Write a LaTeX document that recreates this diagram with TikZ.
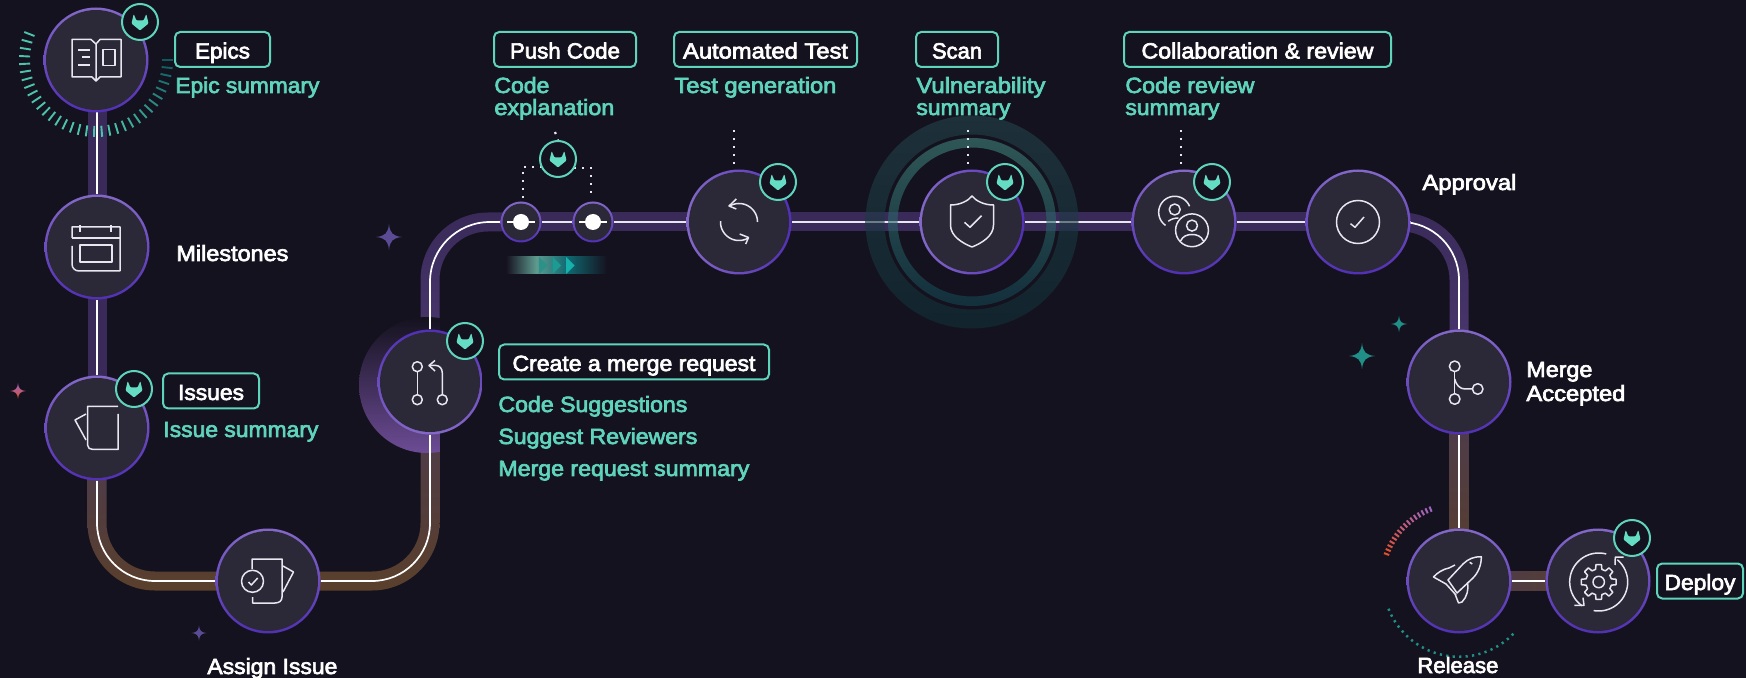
\documentclass[tikz,border=0pt]{standalone}
\usepackage{fontspec}
\usepackage{graphicx}
\usetikzlibrary{calc,shadings}
\newfontfamily\labfont[FakeBold=3]{Liberation Sans}
\definecolor{bgc}{HTML}{15121F}
\definecolor{stagec}{HTML}{2B2838}
\definecolor{ringa}{HTML}{8468C8}
\definecolor{ringb}{HTML}{5230B4}
\definecolor{tealc}{HTML}{5FD4BD}
\definecolor{tanuc}{HTML}{65DCC4}
\definecolor{iconc}{HTML}{E8E6EE}
\definecolor{bandp}{HTML}{392A59}
\definecolor{bandq}{HTML}{4E3A73}
\definecolor{bandb}{HTML}{5A3F2B}
\definecolor{bandm}{HTML}{4A3A52}
\definecolor{ticka}{HTML}{4CC4AC}
\definecolor{tickb}{HTML}{0D5A5E}
\definecolor{tkr}{HTML}{E0502A}
\definecolor{tkp}{HTML}{9A66C8}
\definecolor{dotteal}{HTML}{1F8F88}
\definecolor{chevA}{HTML}{5F9A8F}
\definecolor{chevB}{HTML}{106A72}
\definecolor{ringoa}{HTML}{24444C}
\definecolor{ringob}{HTML}{103038}
\definecolor{ringia}{HTML}{41857D}
\definecolor{ringib}{HTML}{124450}
\definecolor{sparkv}{HTML}{5B4A94}
\pgfdeclarelayer{back}
\pgfsetlayers{back,main}
\pgfdeclarehorizontalshading{chevshade}{100bp}{color(0bp)=(bgc); color(25bp)=(bgc); color(40bp)=(chevA); color(55bp)=(chevB); color(75bp)=(bgc); color(100bp)=(bgc)}
\newcommand{\fitw}[2]{\resizebox{\dimexpr #1pt/2\relax}{\height}{#2}}
\newcommand{\arcpath}[5]{plot[domain=#4:#5,samples=40] ({#1+#3*cos(\x)},{#2+#3*sin(\x)})}
\newcommand{\tanuki}[1]{\fill[tanuc,rounded corners=0.5pt,shift={(#1.center)}] (0,8.5) -- (-8.5,1.5) -- (-6.3,-8) -- (-3.6,-1.5) -- (3.6,-1.5) -- (6.3,-8) -- (8.5,1.5) -- cycle;}
\newcommand{\sparkle}[4]{\fill[#4,shift={(#1,#2)},scale=#3] (0,-1) .. controls (.07,-.3) and (.3,-.07) .. (1,0) .. controls (.3,.07) and (.07,.3) .. (0,1) .. controls (-.07,.3) and (-.3,.07) .. (-1,0) .. controls (-.3,-.07) and (-.07,-.3) .. (0,-1) -- cycle;}
\tikzset{
  stage/.style={circle,minimum size=52.5pt,inner sep=0pt,top color=ringa,bottom color=ringb,
    path picture={\fill[stagec] (path picture bounding box.center) circle (25pt);}},
  flipstage/.style={circle,minimum size=52.5pt,inner sep=0pt,top color=ringb,bottom color=ringa,
    path picture={\fill[stagec] (path picture bounding box.center) circle (25pt);}},
  sidestage/.style={circle,minimum size=52.5pt,inner sep=0pt,left color=ringa,right color=ringb,
    path picture={\fill[stagec] (path picture bounding box.center) circle (25pt);}},
  dotstage/.style={circle,minimum size=20.5pt,inner sep=0pt,top color=ringa,bottom color=ringb,
    path picture={\fill[stagec] (path picture bounding box.center) circle (9.2pt);
      \draw[white,line width=.9pt] ($(path picture bounding box.center)+(-14,0)$) -- ($(path picture bounding box.center)+(14,0)$);
      \fill[white] (path picture bounding box.center) circle (4pt);}},
  badge/.style={circle,minimum size=18pt,inner sep=0pt,draw=tealc,line width=1pt,fill=bgc},
  tag/.style={rectangle,rounded corners=2.6pt,draw=tealc,line width=1pt,fill=bgc,inner sep=0pt,
    minimum height=17.5pt,text height=9pt,text depth=0pt,text=white,font=\labfont\fontsize{11}{13}\selectfont},
  whitetext/.style={anchor=base west,inner sep=0pt,text=white,font=\labfont\fontsize{11}{13}\selectfont},
  tealtext/.style={anchor=base west,inner sep=0pt,text=tealc,font=\labfont\fontsize{11}{13}\selectfont},
  icon/.style={draw=iconc,line width=.75pt,line join=round},
  track/.style={draw=white,line width=.85pt},
  toptrack/.style={draw=iconc,line width=1.15pt},
  dotline/.style={draw=iconc,line width=1.1pt,dash pattern=on 1.1pt off 2.9pt},
}
\begin{document}
\begin{tikzpicture}[x=0.5pt,y=-0.5pt]
\useasboundingbox (0,0) rectangle (1746,678);
% stages
\node[stage] (epics) at (96,60) {};
\node[stage] (miles) at (97,247) {};
\node[stage] (issues) at (97,428) {};
\node[stage] (assign) at (268,581) {};
\node[flipstage] (mr) at (430,382) {};
\node[dotstage] (dota) at (521,222) {};
\node[dotstage] (dotb) at (593,222) {};
\node[sidestage] (test) at (739,222) {};
\node[sidestage] (scan) at (972,222) {};
\node[stage] (collab) at (1184,222) {};
\node[stage] (approval) at (1358,222) {};
\node[stage] (merge) at (1459,382) {};
\node[stage] (release) at (1459,581) {};
\node[stage] (deploy) at (1598,581) {};
% badges
\node[badge] (bepics) at (140,22) {}; \tanuki{bepics}
\node[badge] (bissues) at (134,389) {}; \tanuki{bissues}
\node[badge] (bmr) at (465,341) {}; \tanuki{bmr}
\node[badge] (bpush) at (558,159) {}; \tanuki{bpush}
\node[badge] (btest) at (778,182) {}; \tanuki{btest}
\node[badge] (bscan) at (1005,182) {}; \tanuki{bscan}
\node[badge] (bcollab) at (1212,182) {}; \tanuki{bcollab}
\node[badge] (bdeploy) at (1632,538) {}; \tanuki{bdeploy}
% free ends
\coordinate (pushtop) at (555,132);
\coordinate (testtop) at (734,130);
\coordinate (scantop) at (968,130);
\coordinate (collabtop) at (1181,130);
\begin{pgfonlayer}{back}
\fill[bgc] (0,0) rectangle (1746,678);
% bands
\fill[bandp] ($(miles |- epics)+(-9.5,0)$) rectangle ($(issues)+(9.5,0)$);
\shade[top color=bandm,bottom color=bandb] ($(issues)+(-9.5,0)$) [rounded corners=33.75pt] -- ($(issues |- assign)+(-9.5,9.5)$) [sharp corners] -- ($(assign)+(0,9.5)$) -- ($(assign)+(0,-9.5)$) [rounded corners=24.25pt] -- ($(issues |- assign)+(9.5,-9.5)$) [sharp corners] -- ($(issues)+(9.5,0)$) -- cycle;
\shade[top color=bandm,bottom color=bandb] ($(mr)+(9.5,0)$) [rounded corners=33.75pt] -- ($(mr |- assign)+(9.5,9.5)$) [sharp corners] -- ($(assign)+(0,9.5)$) -- ($(assign)+(0,-9.5)$) [rounded corners=24.25pt] -- ($(mr |- assign)+(-9.5,-9.5)$) [sharp corners] -- ($(mr)+(-9.5,0)$) -- cycle;
\shade[top color=bandp,bottom color=bandq] ($(mr)+(-9.5,0)$) [rounded corners=33.75pt] -- ($(mr |- dota)+(-9.5,-9.5)$) [sharp corners] -- ($(dota)+(0,-9.5)$) -- ($(dota)+(0,9.5)$) [rounded corners=24.25pt] -- ($(mr |- dota)+(9.5,9.5)$) [sharp corners] -- ($(mr)+(9.5,0)$) -- cycle;
\fill[bandp] ($(dota)+(0,-9.5)$) rectangle ($(approval)+(0,9.5)$);
\shade[top color=bandp,bottom color=bandq] ($(merge)+(9.5,0)$) [rounded corners=33.75pt] -- ($(merge |- approval)+(9.5,-9.5)$) [sharp corners] -- ($(approval)+(0,-9.5)$) -- ($(approval)+(0,9.5)$) [rounded corners=24.25pt] -- ($(merge |- approval)+(-9.5,9.5)$) [sharp corners] -- ($(merge)+(-9.5,0)$) -- cycle;
\shade[top color=bandm,bottom color=bandb] ($(merge)+(-9.5,0)$) rectangle ($(release)+(9.5,0)$);
\shade[left color=bandm,right color=bandb] ($(release)+(0,-9.5)$) rectangle ($(deploy)+(0,9.5)$);
% merge request glow
\begin{scope}
\clip (340,300) rectangle (439.5,460);
\shade[top color=bgc,bottom color=bandq!60!tkp] (427,385) circle (68);
\end{scope}
% white lines
\draw[track] (miles |- epics) -- (miles);
\draw[track] (miles) -- (issues);
\draw[track,rounded corners=29pt] (issues) |- (assign);
\draw[track,rounded corners=29pt] (assign) -| (mr);
\draw[track,rounded corners=30pt] (mr) |- (dota);
\draw[toptrack] (dota) -- (dotb);
\draw[toptrack] (dotb) -- (test);
\draw[toptrack] (test) -- (scan);
\draw[toptrack] (scan) -- (collab);
\draw[toptrack] (collab) -- (approval);
\draw[track,rounded corners=29pt] (approval) -| (merge);
\draw[track] (merge) -- (release);
\draw[track] (release) -- (deploy);
% scan rings
\shade[even odd rule,top color=ringoa,bottom color=ringob,opacity=.6] (scan) circle (106.5) (scan) circle (87.5);
\shade[even odd rule,top color=ringia,bottom color=ringib,opacity=.6] (scan) circle (84) (scan) circle (74.5);
% dotted connectors
\draw[dotline] (pushtop) -- (bpush.north);
\draw[dotline] ($(bpush)+(-16,8)$) -| ($(dota.north)+(2,-2)$);
\draw[dotline] ($(bpush)+(16,9)$) -| ($(dotb.north)+(-2,-8)$);
\draw[dotline] (testtop) -- ($(testtop |- test.north)+(0,-5)$);
\draw[dotline] (scantop) -- ($(scantop |- scan.north)+(0,-5)$);
\draw[dotline] (collabtop) -- ($(collabtop |- collab.north)+(0,-5)$);
\end{pgfonlayer}
% tick arcs
\foreach \a in {0,6.1,...,205} {
  \pgfmathsetmacro\t{min(100,\a/80*100)}
  \draw[line width=.95pt,draw={ticka!\t!tickb}] ($(epics)+(\a:66)$) -- ($(epics)+(\a:77)$);
}
\foreach \a in {200.4,203.6,...,250} {
  \pgfmathsetmacro\t{(\a-200)/50*100}
  \draw[line width=1pt,draw={tkp!\t!tkr}] ($(release)+(\a:74.5)$) -- ($(release)+(\a:80)$);
}
\foreach \a in {45,49.9,...,158} {
  \draw[line width=1.1pt,draw=dotteal] ($(release)+(\a:74.5)$) -- ($(release)+(\a:77)$);
}
% sparkles
\sparkle{18}{391}{8}{top color=tkp,bottom color=tkr}
\sparkle{199}{633}{7.5}{color=sparkv}
\sparkle{389}{237}{13}{color=sparkv}
\sparkle{1399}{324}{8}{color=dotteal}
\sparkle{1362}{356}{13}{color=dotteal}
% chevrons
\fill[shading=chevshade] (506,257) rectangle (607,274);
\fill[dotteal!80!chevA] (539,257) -- (547.7,265.5) -- (539,274) -- cycle;
\fill[dotteal!90!cyan] (552.5,257) -- (561,265.5) -- (552.5,274) -- cycle;
\fill[dotteal!70!cyan] (566,257) -- (574.5,265.5) -- (566,274) -- cycle;
% icons
\begin{scope}[shift={(epics.center)}]
\draw[icon] (0,-16) -- (-5,-20.5) -- (-24,-20.5) -- (-24,17) -- (-4,17) -- (0,21) -- (4,17) -- (25,17) -- (25,-20.5) -- (4,-20.5) -- (0,-16) -- (0,20);
\draw[icon] (-18,-10) -- (-6,-10) (-14,-3) -- (-6,-3) (-18,5) -- (-6,5);
\draw[icon] (7,-10.5) rectangle (19,5.5);
\end{scope}
\begin{scope}[shift={(miles.center)}]
\draw[icon] (-25,-9) -- (-25,-20) -- (23,-20) -- (23,24) -- (-18,24) .. controls (-22,24) and (-25,21) .. (-25,17) -- (-25,-1);
\draw[icon] (-25,-9) -- (23,-9);
\draw[icon] (-17,-2) rectangle (15,15);
\draw[icon] (-17,-22) -- (-17,-15) (14,-22) -- (14,-15);
\end{scope}
\begin{scope}[shift={(issues.center)}]
\draw[icon] (21,-21.5) -- (-9.5,-21.5) -- (-9.5,17) .. controls (-9.5,20) and (-7,21.5) .. (-4,21.5) -- (21,21.5) -- (21,-14);
\draw[icon] (-11,-14) -- (-22,-8) -- (-11,12);
\end{scope}
\begin{scope}[shift={(assign.center)}]
\draw[icon] (-16,-12) -- (-16,-22) -- (14,-22) -- (14,16) .. controls (14,20) and (11,22) .. (7,22) -- (-15.5,22) -- (-15.5,16);
\draw[icon] (15,-15) -- (25.5,-9) -- (15,11);
\draw[icon] (-15.5,0.3) circle (11);
\draw[icon] (-19.5,1) -- (-16.7,4) -- (-10.3,-3);
\end{scope}
\begin{scope}[shift={(mr.center)}]
\draw[icon] (-12.7,-15.3) circle (5) (-12.7,17.7) circle (5) (12.3,17.7) circle (5);
\draw[icon] (-12.7,-10.3) -- (-12.7,12.7);
\draw[icon] (12.3,12.7) -- (12.3,-9) .. controls (12.3,-13.5) and (9.5,-16.5) .. (6,-16.5) -- (-1,-16.5);
\draw[icon] (5,-21.5) -- (-1,-16.5) -- (5,-11);
\end{scope}
\begin{scope}[shift={(test.center)}]
\draw[icon] \arcpath{0}{0}{18.5}{-122}{0};
\draw[icon] \arcpath{0}{0}{18.5}{60.6}{183};
\draw[icon] (-2.7,-23) -- (-10,-16) -- (-2.7,-13);
\draw[icon] (0.7,12) -- (9.5,15.5) -- (6.7,22);
\end{scope}
\begin{scope}[shift={(scan.center)}]
\draw[icon] (0,-26) .. controls (-4,-21) and (-12,-17) .. (-21.5,-17) -- (-21.5,3) .. controls (-21.5,14) and (-10,21) .. (0,25) .. controls (10,21) and (21.5,14) .. (21.5,3) -- (21.5,-17) .. controls (12,-17) and (4,-21) .. (0,-26) -- cycle;
\draw[icon] (-7.5,0.3) -- (-2,5.3) -- (9.5,-6.3);
\end{scope}
\begin{scope}[shift={(collab.center)}]
\draw[icon] (8,8.3) circle (16.4);
\draw[icon] (8,3.6) circle (5.5);
\draw[icon] (-3.5,19) .. controls (-1,14) and (3,12.5) .. (8,12.5) .. controls (13,12.5) and (17,14) .. (19.5,19);
\draw[icon] \arcpath{-9.3}{-9.7}{16}{-235}{-22};
\draw[icon] (-9.3,-12.5) circle (5.5);
\draw[icon] (-15.7,-0.7) .. controls (-13,-3) and (-9,-4) .. (-5.7,-4);
\end{scope}
\begin{scope}[shift={(approval.center)}]
\draw[icon] (0,0) circle (21.5);
\draw[icon] (-7.5,1.7) -- (-3,5.3) -- (6,-5);
\end{scope}
\begin{scope}[shift={(merge.center)}]
\draw[icon] (-4.3,-15.7) circle (5.3) (-4.3,17) circle (5.3) (18.7,7) circle (5.3);
\draw[icon] (-4.3,-10.4) -- (-4.3,11.7);
\draw[icon] (-4.3,-3) .. controls (-3,3) and (1,7) .. (6,7) -- (13.4,7);
\end{scope}
\begin{scope}[shift={(release.center)}]
\draw[icon] (22.3,-24.3) .. controls (15,-24.5) and (9,-22) .. (4,-17) -- (-11,-1) -- (-2,12) -- (14,-3) .. controls (19,-8) and (22.5,-16) .. (22.3,-24.3) -- cycle;
\draw[icon] (-4,-16) -- (-10,-13) .. controls (-16,-12) and (-22,-8) .. (-25.5,-4) -- (-13,3) -- (-3,14);
\draw[icon] (8.5,1) .. controls (10,8) and (8,16) .. (3,21) -- (-0.5,22) -- (-4,13);
\draw[icon] (10.7,-18.7) -- (13.3,-17);
\end{scope}
\begin{scope}[shift={(deploy.center)}]
\begin{scope}[shift={(0.7,1)}]
\draw[icon] (-14:13) \foreach \a in {0,45,...,315} { -- (\a-14:13) -- (\a-9:17.5) -- (\a+9:17.5) -- (\a+14:13)} -- cycle;
\draw[icon] (0,0) circle (5.7);
\draw[icon] \arcpath{0}{0}{29}{-235}{-75};
\draw[icon] \arcpath{0}{0}{29}{-50}{100};
\end{scope}
\draw[icon] (-23.7,24.3) -- (-14,24.3) -- (-15,16.7);
\draw[icon] (25.7,-24) -- (17.3,-24) -- (17,-16);
\end{scope}
% tags
\node[tag,minimum width=47.5pt] (tepics) at (222.5,49.5) {\fitw{55}{Epics}};
\node[tag,minimum width=48pt] (tissues) at (211,391) {\fitw{66}{Issues}};
\node[tag,minimum width=135pt] (tmr) at (634,362) {\fitw{243}{Create a merge request}};
\node[tag,minimum width=71pt] (tpush) at (565,49.5) {\fitw{110}{Push Code}};
\node[tag,minimum width=91.5pt] (ttest) at (765.5,49.5) {\fitw{165}{Automated Test}};
\node[tag,minimum width=41pt] (tscan) at (957,49.5) {\fitw{50}{Scan}};
\node[tag,minimum width=133.5pt] (tcollab) at (1257.5,49.5) {\fitw{232}{Collaboration \& review}};
\node[tag,minimum width=43pt] (tdeploy) at (1700,581) {\fitw{71}{Deploy}};
% teal labels
\node[tealtext] (sepic) at (175,93) {\fitw{144}{Epic summary}};
\node[tealtext] (sissue) at (163,437) {\fitw{155}{Issue summary}};
\node[tealtext] (smra) at (498,412) {\fitw{189}{Code Suggestions}};
\node[tealtext] (smrb) at (498,444) {\fitw{199}{Suggest Reviewers}};
\node[tealtext] (smrc) at (498,476) {\fitw{251}{Merge request summary}};
\node[tealtext] (spusha) at (494,93) {\fitw{55}{Code}};
\node[tealtext] (spushb) at (494,115) {\fitw{120}{explanation}};
\node[tealtext] (stest) at (674,93) {\fitw{162}{Test generation}};
\node[tealtext] (sscana) at (916,93) {\fitw{129}{Vulnerability}};
\node[tealtext] (sscanb) at (916,115) {\fitw{94}{summary}};
\node[tealtext] (scola) at (1125,93) {\fitw{129}{Code review}};
\node[tealtext] (scolb) at (1125,115) {\fitw{94}{summary}};
% white labels
\node[whitetext] (lmiles) at (176,261) {\fitw{112}{Milestones}};
\node[whitetext] (lassign) at (207,674) {\fitw{130}{Assign Issue}};
\node[whitetext] (lappr) at (1422,190) {\fitw{94}{Approval}};
\node[whitetext] (lmerge) at (1526,377) {\fitw{66}{Merge}};
\node[whitetext] (laccept) at (1526,401) {\fitw{99}{Accepted}};
\node[whitetext] (lrel) at (1417,673) {\fitw{81}{Release}};
\end{tikzpicture}
\end{document}
